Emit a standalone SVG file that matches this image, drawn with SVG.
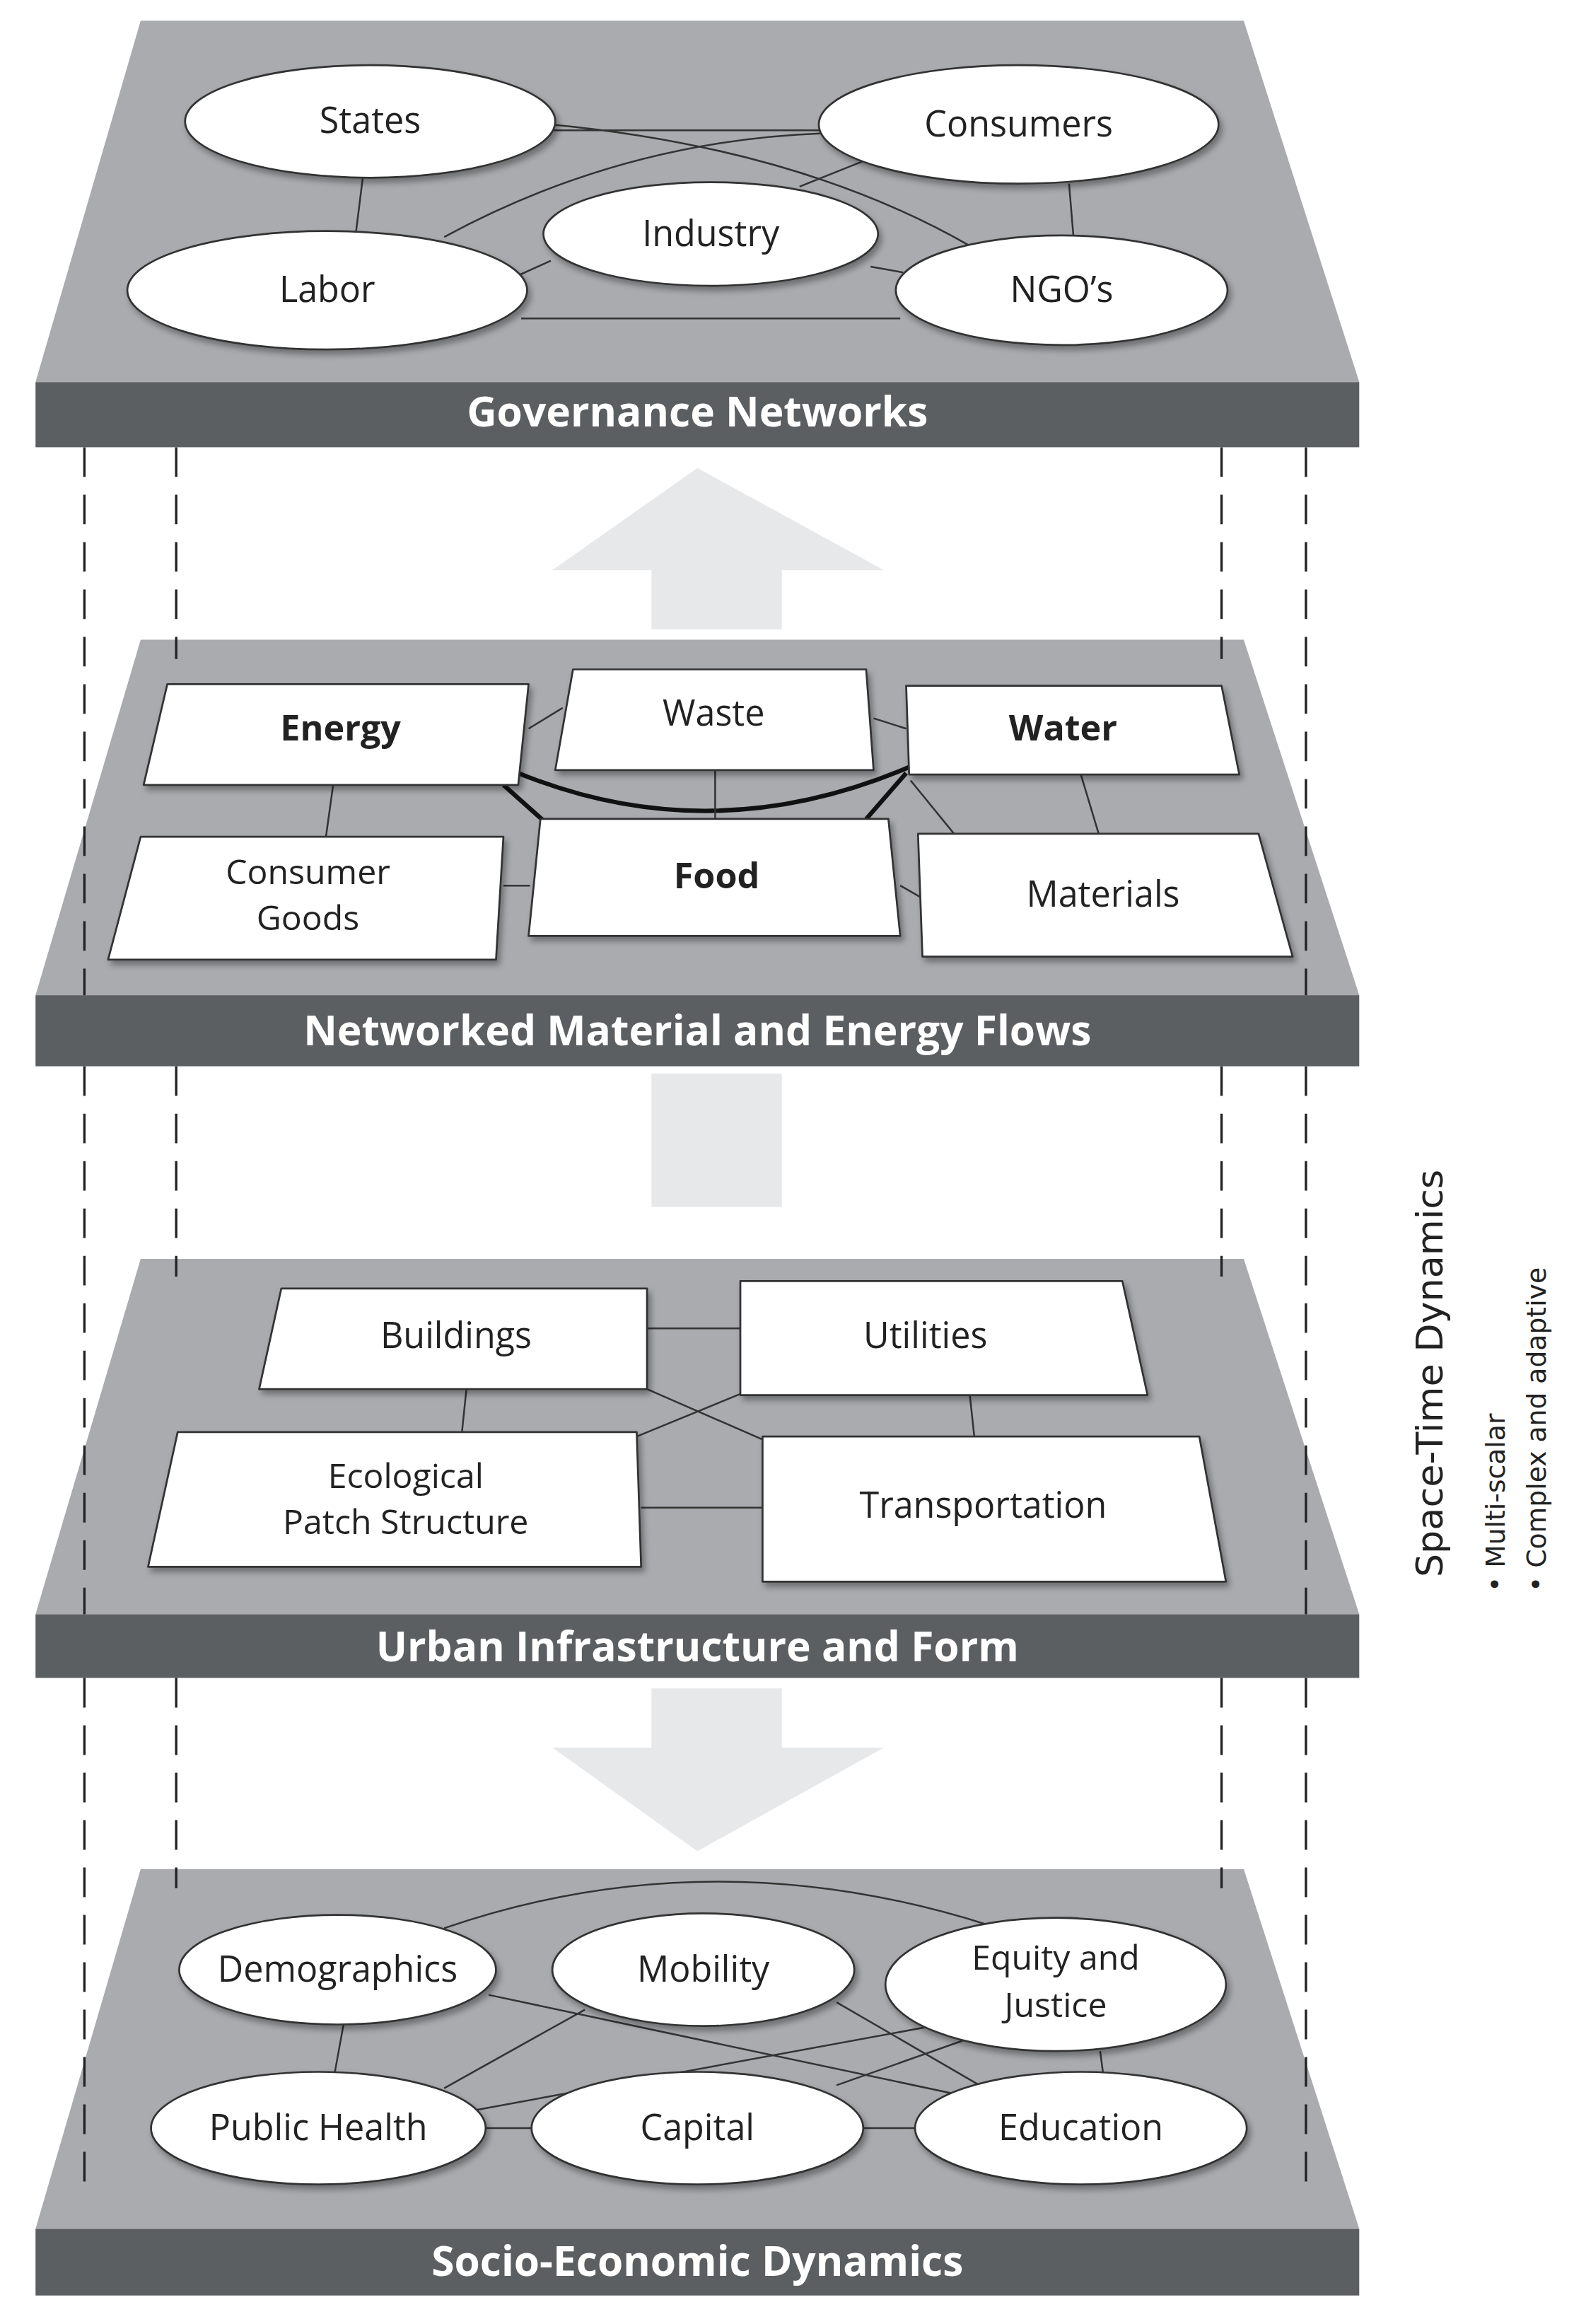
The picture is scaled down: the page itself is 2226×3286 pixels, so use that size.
<svg xmlns="http://www.w3.org/2000/svg" width="2226" height="3286" viewBox="0 0 2226 3286">
<defs>
<style>
.plane{fill:#a9abae}
.band{fill:#5c5f62}
.title{font-family:"Open Sans","Liberation Sans",sans-serif;font-weight:bold;font-size:28px;fill:#fff;text-anchor:middle}
.node{fill:#fff;stroke:#333;stroke-width:1.3;stroke-linejoin:round}
.lbl{font-family:"Open Sans","Liberation Sans",sans-serif;font-size:24px;fill:#222;text-anchor:middle}
.sm{font-size:23px}
.b{font-weight:bold}
.ln{stroke:#333;stroke-width:1.2;fill:none}
.thick{stroke:#111;stroke-width:3;fill:none}
.dash{stroke:#222;stroke-width:1.6;stroke-dasharray:20,12;fill:none}
.arrow{fill:#e6e8ea}
.side{font-family:"DejaVu Sans",sans-serif;fill:#222}
</style>
<filter id="sh" x="-10%" y="-10%" width="130%" height="140%"><feDropShadow dx="2" dy="3" stdDeviation="2" flood-color="#000" flood-opacity="0.35"/></filter>
</defs>
<rect width="2226" height="3286" fill="#fff"/>
<g transform="scale(2.094)">
<g id="arrows">
<polygon class="arrow" points="471,316 597,385 528,385 528,425 440,425 440,385 373,385"/>
<rect class="arrow" x="440" y="725" width="88" height="90"/>
<polygon class="arrow" points="440,1140 528,1140 528,1180 597,1180 471,1250 373,1180 440,1180"/>
</g>
<g id="layer-governance">
<polygon class="plane" points="95,14 840,14 918,258 24,258"/>
<rect class="band" x="24" y="258" width="894" height="44"/>
<text class="title" x="471" y="288">Governance Networks</text>
</g>
<g id="layer-flows">
<polygon class="plane" points="95,432 840,432 918,672 24,672"/>
<rect class="band" x="24" y="672" width="894" height="48"/>
<text class="title" x="471" y="706">Networked Material and Energy Flows</text>
</g>
<g id="layer-infra">
<polygon class="plane" points="95,850 840,850 918,1090 24,1090"/>
<rect class="band" x="24" y="1090" width="894" height="43"/>
<text class="title" x="471" y="1122">Urban Infrastructure and Form</text>
</g>
<g id="layer-socio">
<polygon class="plane" points="95,1262 840,1262 918,1505 24,1505"/>
<rect class="band" x="24" y="1505" width="894" height="45"/>
<text class="title" x="471" y="1537">Socio-Economic Dynamics</text>
</g>
<g id="dashed">
<path class="dash" d="M57,302V672M57,720V1090M57,1133V1480M882,302V672M882,720V1090M882,1133V1480M119,302V445M119,720V862M119,1133V1275M825,302V445M825,720V862M825,1133V1275"/>
</g>
<g id="connectors">
<path class="ln" d="M245,120L240,160M722,124L725,160M370,88L560,88M372,84Q540,100 655,166M300,160Q420,95 556,90M540,126L585,108M350,186L372,176M588,180L610,184M352,215H608"/>
<path class="thick" d="M350,522Q480,575 614,518M340,530L368,555M612,522L585,553"/>
<path class="ln" d="M225,530L220,566M483,520V553M730,523L742,563M357,492L380,478M590,485L612,492M340,598H358M608,598L622,606M615,527L646,565"/>
<path class="ln" d="M437,897H500M315,938L312,967M655,942L658,970M437,938L515,972M503,940L430,970M433,1018H515"/>
<path class="ln" d="M300,1302Q480,1240 668,1300M232,1367L226,1400M743,1385L745,1400M330,1347L650,1415M395,1357L300,1410M565,1352L665,1410M630,1368L320,1425M650,1378L565,1408M328,1437H360M583,1437H618"/>
</g>
<g id="n-states"><ellipse class="node" filter="url(#sh)" cx="250" cy="82" rx="125" ry="38"/><text class="lbl" x="250" y="90">States</text></g>
<g id="n-consumers"><ellipse class="node" filter="url(#sh)" cx="688" cy="84" rx="135" ry="40"/><text class="lbl" x="688" y="92">Consumers</text></g>
<g id="n-industry"><ellipse class="node" filter="url(#sh)" cx="480" cy="158" rx="113" ry="35"/><text class="lbl" x="480" y="166">Industry</text></g>
<g id="n-labor"><ellipse class="node" filter="url(#sh)" cx="221" cy="196" rx="135" ry="40"/><text class="lbl" x="221" y="204">Labor</text></g>
<g id="n-ngos"><ellipse class="node" filter="url(#sh)" cx="717" cy="196" rx="112" ry="37"/><text class="lbl" x="717" y="204">NGO’s</text></g>
<g id="n-energy"><path class="node" filter="url(#sh)" d="M113,462H357L350,530H97Z"/><text class="lbl b" x="230" y="500">Energy</text></g>
<g id="n-waste"><path class="node" filter="url(#sh)" d="M387,452H585L590,520H375Z"/><text class="lbl" x="482" y="490">Waste</text></g>
<g id="n-water"><path class="node" filter="url(#sh)" d="M612,463H825L837,523H614Z"/><text class="lbl b" x="718" y="500">Water</text></g>
<g id="n-consumergoods"><path class="node" filter="url(#sh)" d="M95,565H340L335,648H73Z"/><text class="lbl sm" x="208" y="597">Consumer</text><text class="lbl sm" x="208" y="628">Goods</text></g>
<g id="n-food"><path class="node" filter="url(#sh)" d="M365,553H600L608,632H357Z"/><text class="lbl b" x="484" y="600">Food</text></g>
<g id="n-materials"><path class="node" filter="url(#sh)" d="M620,563H850L873,646H623Z"/><text class="lbl" x="745" y="612">Materials</text></g>
<g id="n-buildings"><path class="node" filter="url(#sh)" d="M190,870H437V938H175Z"/><text class="lbl" x="308" y="910">Buildings</text></g>
<g id="n-utilities"><path class="node" filter="url(#sh)" d="M500,865H758L775,942H500Z"/><text class="lbl" x="625" y="910">Utilities</text></g>
<g id="n-ecological"><path class="node" filter="url(#sh)" d="M120,967H430L433,1058H100Z"/><text class="lbl sm" x="274" y="1005">Ecological</text><text class="lbl sm" x="274" y="1036">Patch Structure</text></g>
<g id="n-transportation"><path class="node" filter="url(#sh)" d="M515,970H810L828,1068H515Z"/><text class="lbl" x="664" y="1025">Transportation</text></g>
<g id="n-demographics"><ellipse class="node" filter="url(#sh)" cx="228" cy="1330" rx="107" ry="37"/><text class="lbl" x="228" y="1338">Demographics</text></g>
<g id="n-mobility"><ellipse class="node" filter="url(#sh)" cx="475" cy="1330" rx="102" ry="38"/><text class="lbl" x="475" y="1338">Mobility</text></g>
<g id="n-equity"><ellipse class="node" filter="url(#sh)" cx="713" cy="1340" rx="115" ry="45"/><text class="lbl sm" x="713" y="1330">Equity and</text><text class="lbl sm" x="713" y="1362">Justice</text></g>
<g id="n-publichealth"><ellipse class="node" filter="url(#sh)" cx="215" cy="1437" rx="113" ry="38"/><text class="lbl" x="215" y="1445">Public Health</text></g>
<g id="n-capital"><ellipse class="node" filter="url(#sh)" cx="471" cy="1437" rx="112" ry="38"/><text class="lbl" x="471" y="1445">Capital</text></g>
<g id="n-education"><ellipse class="node" filter="url(#sh)" cx="730" cy="1437" rx="112" ry="38"/><text class="lbl" x="730" y="1445">Education</text></g>
<g id="side-label">
<text class="side" font-size="25" transform="translate(974,1065) rotate(-90)">Space-Time Dynamics</text>
<text class="side" font-size="18" transform="translate(1016,1075) rotate(-90)">• Multi-scalar</text>
<text class="side" font-size="18" transform="translate(1044,1075) rotate(-90)">• Complex and adaptive</text>
</g>
</g>
</svg>
